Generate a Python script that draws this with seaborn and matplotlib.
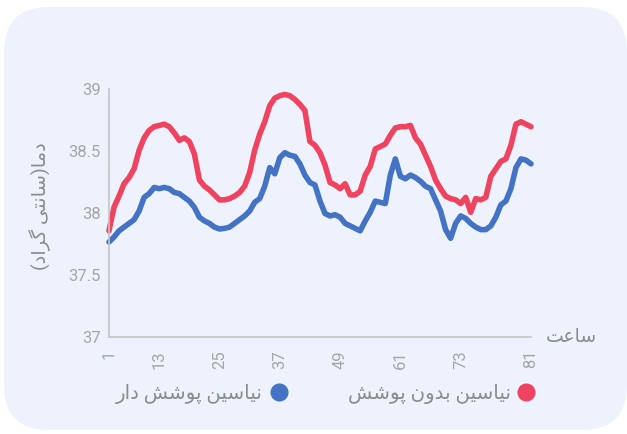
import numpy as np
import pandas as pd
import matplotlib
matplotlib.use('Agg')
import matplotlib.pyplot as plt
import seaborn as sns
from matplotlib.patches import FancyBboxPatch
from matplotlib.lines import Line2D

# --- data ---
sample = np.arange(1, 86)

uncoated = [37.86, 38.05, 38.14, 38.24, 38.29, 38.36, 38.51, 38.61, 38.67, 38.70,
            38.71, 38.72, 38.70, 38.65, 38.59, 38.61, 38.58, 38.48, 38.27, 38.22,
            38.19, 38.15, 38.11, 38.11, 38.12, 38.14, 38.17, 38.22, 38.33, 38.51,
            38.64, 38.74, 38.87, 38.93, 38.95, 38.96, 38.95, 38.92, 38.88, 38.83,
            38.58, 38.55, 38.49, 38.39, 38.25, 38.23, 38.20, 38.24, 38.15, 38.15,
            38.18, 38.31, 38.38, 38.52, 38.54, 38.56, 38.63, 38.69, 38.70, 38.70,
            38.71, 38.61, 38.56, 38.47, 38.38, 38.27, 38.20, 38.14, 38.12, 38.11,
            38.08, 38.13, 38.01, 38.12, 38.11, 38.13, 38.30, 38.36, 38.42, 38.44,
            38.55, 38.72, 38.74, 38.72, 38.70]

coated = [37.77, 37.81, 37.86, 37.89, 37.92, 37.95, 38.02, 38.13, 38.16, 38.21,
          38.20, 38.21, 38.20, 38.17, 38.16, 38.13, 38.10, 38.05, 37.97, 37.94,
          37.92, 37.89, 37.875, 37.88, 37.89, 37.92, 37.95, 37.98, 38.02, 38.09,
          38.12, 38.22, 38.37, 38.32, 38.45, 38.49, 38.47, 38.46, 38.40, 38.31,
          38.25, 38.23, 38.10, 38.00, 37.98, 37.99, 37.97, 37.92, 37.90, 37.88,
          37.86, 37.94, 38.01, 38.10, 38.09, 38.08, 38.31, 38.44, 38.30, 38.28,
          38.31, 38.29, 38.26, 38.22, 38.20, 38.11, 38.02, 37.87, 37.80, 37.92,
          37.98, 37.96, 37.92, 37.89, 37.87, 37.87, 37.90, 37.97, 38.07, 38.10,
          38.20, 38.37, 38.44, 38.43, 38.40]

tick_at = [1, 11, 23, 35, 47, 59, 71, 85]
tick_labels = ['1', '13', '25', '37', '49', '61', '73', '81']
y_ticks = [37, 37.5, 38, 38.5, 39]

name_uncoated = 'نیاسین بدون پوشش'
name_coated = 'نیاسین پوشش دار'
x_title = 'ساعت'
y_title = 'دما(سانتی گراد)'

# --- simple arabic shaping so matplotlib shows joined RTL text ---
DUAL = set('بتسشعمنپگی')
RIGHT = set('ادرو')
FORMS = {
    'ا': ('\uFE8D', '\uFE8E'),
    'د': ('\uFEA9', '\uFEAA'),
    'ر': ('\uFEAD', '\uFEAE'),
    'و': ('\uFEED', '\uFEEE'),
    'ب': ('\uFE8F', '\uFE90', '\uFE91', '\uFE92'),
    'ت': ('\uFE95', '\uFE96', '\uFE97', '\uFE98'),
    'س': ('\uFEB1', '\uFEB2', '\uFEB3', '\uFEB4'),
    'ش': ('\uFEB5', '\uFEB6', '\uFEB7', '\uFEB8'),
    'ع': ('\uFEC9', '\uFECA', '\uFECB', '\uFECC'),
    'م': ('\uFEE1', '\uFEE2', '\uFEE3', '\uFEE4'),
    'ن': ('\uFEE5', '\uFEE6', '\uFEE7', '\uFEE8'),
    'پ': ('\uFB56', '\uFB57', '\uFB58', '\uFB59'),
    'گ': ('\uFB92', '\uFB93', '\uFB94', '\uFB95'),
    'ی': ('\uFBFC', '\uFBFD', '\uFBFE', '\uFBFF'),
}


def rtl(text):
    out = []
    for k, ch in enumerate(text):
        if ch not in FORMS:
            out.append(ch)
            continue
        prev = text[k - 1] if k > 0 else ''
        nxt = text[k + 1] if k + 1 < len(text) else ''
        jp = prev in DUAL
        jn = ch in DUAL and (nxt in DUAL or nxt in RIGHT)
        f = FORMS[ch]
        if jp and jn:
            g = f[3]
        elif jp:
            g = f[1]
        elif jn:
            g = f[2]
        else:
            g = f[0]
        out.append(g)
    vis = ''.join(reversed(out))
    return vis.translate(str.maketrans('()', ')('))


sns.set_theme(style='white')
plt.rcParams['font.family'] = ['Roboto', 'DejaVu Sans']

red = '#ef4360'
blue = '#4472c4'

df = pd.DataFrame({
    'sample': np.concatenate([sample, sample]),
    'temp': uncoated + coated,
    'series': [name_uncoated] * len(sample) + [name_coated] * len(sample),
})

fig = plt.figure(figsize=(6.27, 4.34), dpi=100, facecolor='white')
bg = FancyBboxPatch((0.04, 0.04), 6.23, 4.23,
                    boxstyle='round,pad=0,rounding_size=0.45',
                    transform=fig.dpi_scale_trans, facecolor='#edf2fc',
                    edgecolor='none', zorder=-5)
fig.patches.append(bg)

ax = fig.add_axes([0.1738, 0.2224, 0.6731, 0.5714])
ax.set_zorder(2)
ax.set_facecolor('none')

sns.lineplot(data=df, x='sample', y='temp', hue='series',
             palette={name_uncoated: red, name_coated: blue},
             linewidth=4.0, legend=False, ax=ax)
for ln in ax.lines:
    ln.set_clip_on(False)
    ln.set_solid_joinstyle('round')

ax.set_xlim(1, 85)
ax.set_ylim(37, 39)
ax.set_xticks(tick_at)
ax.set_xticklabels(tick_labels, rotation=90)
ax.set_yticks(y_ticks)
ax.set_yticklabels(['37', '37.5', '38', '38.5', '39'])
ax.tick_params(axis='x', length=0, pad=9, labelsize=12, labelcolor='#a6a6a6')
ax.tick_params(axis='y', length=0, pad=6, labelsize=12, labelcolor='#a6a6a6')

for s in ['top', 'right']:
    ax.spines[s].set_visible(False)
for s in ['left', 'bottom']:
    ax.spines[s].set_color('#c4c4c4')
    ax.spines[s].set_linewidth(1.2)

ax.set_xlabel('')
ax.set_ylabel(rtl(y_title), fontsize=14, color='#8c8c8c')
ax.yaxis.set_label_coords(-0.138, 0.53)
fig.text(571 / 627, 1 - 337 / 434, rtl(x_title), fontsize=13.5, color='#8c8c8c',
         ha='center', va='center')

handles = [
    Line2D([], [], linestyle='none', marker='o', markersize=12,
           markerfacecolor=blue, markeredgecolor=blue),
    Line2D([], [], linestyle='none', marker='o', markersize=12,
           markerfacecolor=red, markeredgecolor=red),
]
fig.legend(handles, [rtl(name_coated), rtl(name_uncoated)], loc='center',
           bbox_to_anchor=(0.52, 0.092), ncol=2, frameon=False,
           markerfirst=False, fontsize=14.2, labelcolor='#8c8c8c',
           handletextpad=0.3, columnspacing=3.0, handlelength=1.0)

fig.savefig('out.png', dpi=100)
